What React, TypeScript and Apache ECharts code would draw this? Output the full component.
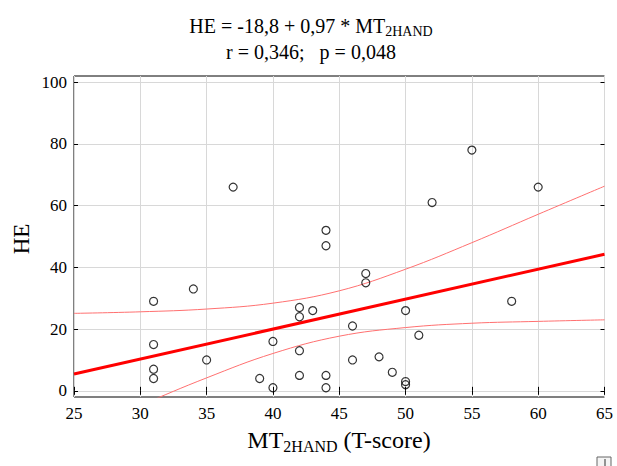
import React, { useEffect, useRef } from "react";
import * as echarts from "echarts";

// Observations (MT2HAND T-score, HE)
const xValues = [31, 31, 31, 31, 34, 35, 37, 39, 40, 40, 42, 42, 42, 42, 43, 44, 44, 44, 44, 46, 46, 47, 47, 48, 49, 50, 50, 50, 51, 52, 55, 58, 60];
const yValues = [29, 15, 7, 4, 33, 10, 66, 4, 16, 1, 27, 24, 13, 5, 26, 52, 47, 5, 1, 21, 10, 38, 35, 11, 6, 26, 3, 2, 18, 61, 78, 29, 66];

// Regression line end points (HE = -18,8 + 0,97 * MT2HAND)
const fitX = [25, 65];
const fitY = [5.45, 44.25];

// 95% confidence band
const bandX = [25, 30, 35, 40, 45, 50, 55, 60, 65];
const upperBand = [25.1, 25.6, 26.5, 28.4, 32.4, 39.4, 48.0, 57.2, 66.3];
const lowerBand = [-13.9, -4.7, 4.2, 12.1, 17.7, 20.5, 21.9, 22.5, 23.0];

// Axis ticks
const yTicks = [0, 20, 40, 60, 80, 100];

const FONT = "Liberation Serif";

export default function App() {
  const ref = useRef<HTMLDivElement>(null);

  useEffect(() => {
    document.body.style.margin = "0";
    const chart = echarts.init(ref.current!, null, { renderer: "svg" });

    const points = xValues.map((x, i) => [x, yValues[i]]);
    const fit = fitX.map((x, i) => [x, fitY[i]]);
    const upper = bandX.map((x, i) => [x, upperBand[i]]);
    const lower = bandX.map((x, i) => [x, lowerBand[i]]);

    const tickCommon = { inside: true, length: 4, lineStyle: { color: "#000", width: 1 } };
    const labelStyle = { fontSize: 17, fontFamily: FONT, color: "#000" };

    chart.setOption({
      animation: false,
      backgroundColor: "#fff",
      textStyle: { fontFamily: FONT },
      grid: {
        left: 74,
        right: 12.5,
        top: 76,
        bottom: 69,
        show: true,
        borderColor: "#000",
        borderWidth: 1,
        backgroundColor: "transparent",
      },
      xAxis: [
        {
          type: "value",
          position: "bottom",
          min: 25,
          max: 65,
          interval: 5,
          axisLine: { show: false },
          axisTick: tickCommon,
          axisLabel: { ...labelStyle, margin: 8 },
          splitLine: { show: true, lineStyle: { color: "#d8d8d8", width: 1 } },
        },
        {
          type: "value",
          position: "top",
          min: 25,
          max: 65,
          interval: 5,
          axisLine: { show: false },
          axisTick: tickCommon,
          axisLabel: { show: false },
          splitLine: { show: false },
        },
      ],
      yAxis: [
        {
          type: "value",
          position: "left",
          min: -2,
          max: 102,
          axisLine: { show: false },
          axisTick: { ...tickCommon, customValues: yTicks },
          axisLabel: { ...labelStyle, customValues: yTicks, margin: 7 },
          splitLine: { show: true, lineStyle: { color: "#d8d8d8", width: 1 } },
        },
        {
          type: "value",
          position: "right",
          min: -2,
          max: 102,
          axisLine: { show: false },
          axisTick: { ...tickCommon, customValues: yTicks },
          axisLabel: { show: false },
          splitLine: { show: false },
        },
      ],
      series: [
        {
          type: "line",
          data: upper,
          smooth: 0.4,
          showSymbol: false,
          lineStyle: { color: "#ff7070", width: 1 },
          z: 2,
        },
        {
          type: "line",
          data: lower,
          smooth: 0.4,
          showSymbol: false,
          lineStyle: { color: "#ff7070", width: 1 },
          z: 2,
        },
        {
          type: "line",
          data: fit,
          showSymbol: false,
          lineStyle: { color: "#ff0000", width: 3 },
          z: 3,
        },
        {
          type: "scatter",
          data: points,
          symbol: "circle",
          symbolSize: 8,
          itemStyle: { color: "rgba(0,0,0,0)", borderColor: "#000", borderWidth: 1.2 },
          z: 4,
        },
      ],
      graphic: [
        {
          type: "text",
          x: 311,
          y: 26,
          style: {
            text: "{a|HE = -18,8 + 0,97 * MT}{b|2HAND}",
            align: "center",
            verticalAlign: "middle",
            rich: {
              a: { fontSize: 20, fontFamily: FONT, fill: "#000", lineHeight: 24 },
              b: { fontSize: 14, fontFamily: FONT, fill: "#000", lineHeight: 7, verticalAlign: "bottom" },
            },
          },
        },
        {
          type: "text",
          x: 311,
          y: 52,
          style: {
            text: "r = 0,346;   p = 0,048",
            align: "center",
            verticalAlign: "middle",
            fontSize: 20,
            fontFamily: FONT,
            fill: "#000",
          },
        },
        {
          type: "text",
          x: 21,
          y: 239,
          rotation: Math.PI / 2,
          style: {
            text: "HE",
            align: "center",
            verticalAlign: "middle",
            fontSize: 23,
            fontFamily: FONT,
            fill: "#000",
          },
        },
        {
          type: "text",
          x: 339,
          y: 440,
          style: {
            text: "{a|MT}{b|2HAND}{a| (T-score)}",
            align: "center",
            verticalAlign: "middle",
            rich: {
              a: { fontSize: 24, fontFamily: FONT, fill: "#000", lineHeight: 28 },
              b: { fontSize: 16, fontFamily: FONT, fill: "#000", lineHeight: 8, verticalAlign: "bottom" },
            },
          },
        },
        {
          type: "rect",
          shape: { x: 597, y: 457, width: 14, height: 12 },
          style: { fill: "#f4f4f4", stroke: "#666", lineWidth: 1 },
        },
        {
          type: "line",
          shape: { x1: 605, y1: 459, x2: 605, y2: 466 },
          style: { stroke: "#333", lineWidth: 1 },
        },
      ],
    });

    return () => chart.dispose();
  }, []);

  return <div ref={ref} style={{ position: "absolute", left: 0, top: 0, width: 617, height: 466 }} />;
}
